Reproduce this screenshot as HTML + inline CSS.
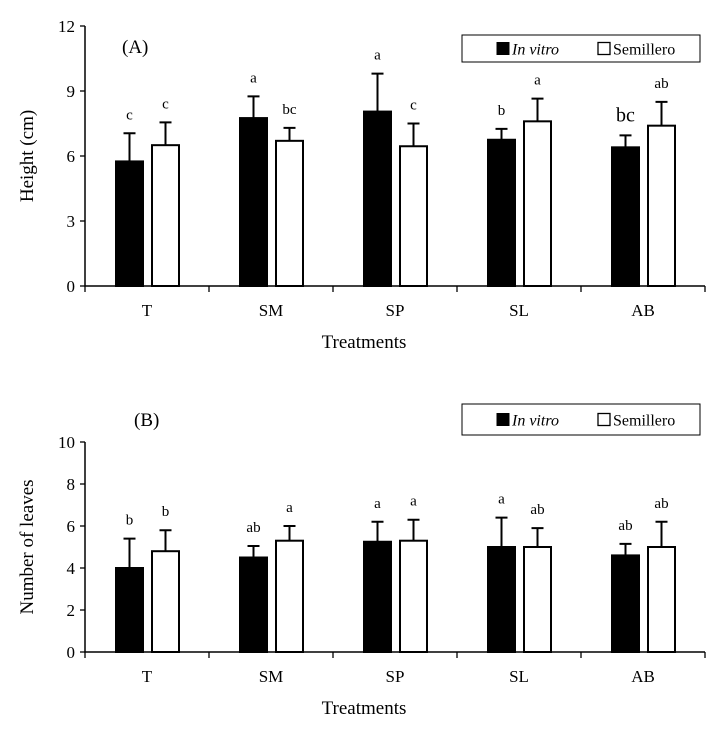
<!DOCTYPE html>
<html><head><meta charset="utf-8"><style>
body{margin:0;background:#fff}
svg{display:block;font-family:"Liberation Serif",serif}
</style></head><body>
<svg id="c" width="712" height="730"></svg>
<script>
const categories=["T","SM","SP","SL","AB"];
const heightInVitro=[5.75,7.75,8.05,6.75,6.4];
const heightInVitroErr=[7.05,8.75,9.8,7.25,6.95];
const heightSemillero=[6.5,6.7,6.45,7.6,7.4];
const heightSemilleroErr=[7.55,7.3,7.5,8.65,8.5];
const heightLettersV=["c","a","a","b","bc"];
const heightLettersS=["c","bc","c","a","ab"];
const heightTicks=[0,3,6,9,12];
const leavesInVitro=[4.0,4.5,5.25,5.0,4.6];
const leavesInVitroErr=[5.4,5.05,6.2,6.4,5.15];
const leavesSemillero=[4.8,5.3,5.3,5.0,5.0];
const leavesSemilleroErr=[5.8,6.0,6.3,5.9,6.2];
const leavesLettersV=["b","ab","a","a","ab"];
const leavesLettersS=["b","a","a","ab","ab"];
const leavesTicks=[0,2,4,6,8,10];
const NS="http://www.w3.org/2000/svg";
const svg=document.getElementById('c');
function mk(t,a,p){const e=document.createElementNS(NS,t);for(const k in a)e.setAttribute(k,a[k]);(p||svg).appendChild(e);return e;}
function panel(o){
  const g=mk('g',{});
  
  
  const x0=85,x1=705,gw=124;
  const y=v=>o.y0-(v/o.max)*(o.y0-o.yTop);
  const cx=i=>x0+gw*(i+0.5);
  o.ticks.forEach(t=>{
    const l=mk('line',{x1:x0-5,x2:x0,y1:y(t),y2:y(t),stroke:'#000','stroke-width':1.3},g);
    
    const tx=mk('text',{x:x0-10,y:y(t)+6,'text-anchor':'end','font-size':17},g);tx.textContent=t;
    
  });
  for(let i=0;i<=categories.length;i++){
    const l=mk('line',{x1:x0+gw*i,x2:x0+gw*i,y1:o.y0,y2:o.y0+6,stroke:'#000','stroke-width':1.3},g);
    
  }
  categories.forEach((c,i)=>{
    [[o.v,o.ve,o.lv,'#000',-1],[o.s,o.se,o.ls,'#fff',1]].forEach(([vals,errs,lets,fill,side])=>{
      const bx=side<0?cx(i)-31:cx(i)+5;
      const b=mk('rect',{x:bx,y:y(vals[i]),width:27,height:o.y0-y(vals[i]),fill:fill,stroke:'#000','stroke-width':2},g);
      
      
      const m=bx+13.5;
      const e=mk('path',{d:`M${m},${y(vals[i])}V${y(errs[i])}M${m-6},${y(errs[i])}H${m+6}`,stroke:'#000','stroke-width':2,fill:'none'},g);
      
      const big=(lets[i]==='bc'&&side<0&&o.name==='height-chart');
      const t=mk('text',{x:m,y:y(errs[i])-14,'text-anchor':'middle','font-size':big?20:15},g);t.textContent=lets[i];
      
    });
    const t=mk('text',{x:cx(i),y:o.y0+30,'text-anchor':'middle','font-size':17},g);t.textContent=c;
    
  });
  const ax=mk('path',{d:`M${x0},${o.yTop}V${o.y0}H${x1}`,stroke:'#000','stroke-width':1.5,fill:'none'},g);
  
  const xt=mk('text',{x:364,y:o.y0+62,'text-anchor':'middle','font-size':19},g);xt.textContent='Treatments';
  
  const ym=(o.y0+o.yTop)/2;
  const yt=mk('text',{x:33,y:ym,'text-anchor':'middle','font-size':19,transform:`rotate(-90 33 ${ym})`},g);yt.textContent=o.ytitle;
  
  const pl=mk('text',{x:o.lx,y:o.ly,'font-size':19},g);pl.textContent=o.label;
  
  const lg=mk('g',{},g);
  mk('rect',{x:462,y:o.legY,width:238,height:o.legH,fill:'#fff',stroke:'#000','stroke-width':1},lg);
  const my=o.legY+o.legH/2;
  mk('rect',{x:497,y:my-6,width:12,height:12,fill:'#000',stroke:'#000'},lg);
  const t1=mk('text',{x:512,y:my+6,'font-size':16,'font-style':'italic'},lg);t1.textContent='In vitro';
  mk('rect',{x:598,y:my-6,width:12,height:12,fill:'#fff',stroke:'#000','stroke-width':1.3},lg);
  const t2=mk('text',{x:613,y:my+6,'font-size':16},lg);t2.textContent='Semillero';
}
panel({name:'height-chart',y0:286,yTop:26,max:12,ticks:heightTicks,v:heightInVitro,ve:heightInVitroErr,s:heightSemillero,se:heightSemilleroErr,lv:heightLettersV,ls:heightLettersS,ytitle:'Height (cm)',label:'(A)',lx:122,ly:53,legY:35,legH:27});
panel({name:'leaves-chart',y0:652,yTop:442,max:10,ticks:leavesTicks,v:leavesInVitro,ve:leavesInVitroErr,s:leavesSemillero,se:leavesSemilleroErr,lv:leavesLettersV,ls:leavesLettersS,ytitle:'Number of leaves',label:'(B)',lx:134,ly:426,legY:404,legH:31});
</script>
</body></html>
